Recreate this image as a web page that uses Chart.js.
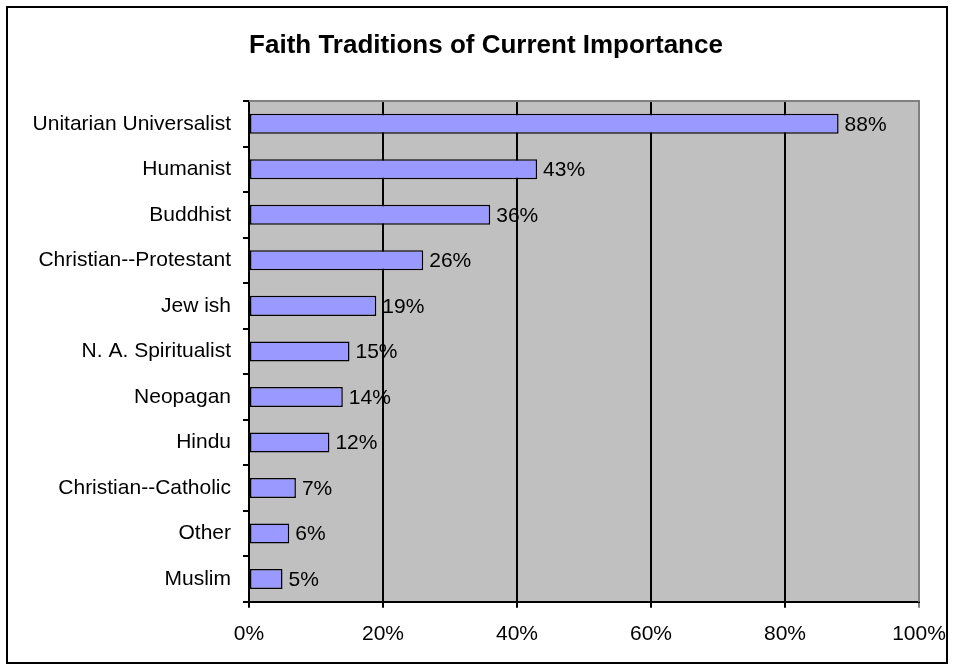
<!DOCTYPE html>
<html>
<head>
<meta charset="utf-8">
<script src="https://cdn.jsdelivr.net/npm/chart.js@4/dist/chart.umd.min.js"></script>
<style>
  body { margin: 0; background: #fff; }
  canvas { display: block; }
</style>
</head>
<body>
<canvas id="faith" width="955" height="671"></canvas>
<script>
// faith traditions, top to bottom as in the picture
var traditions = ['Unitarian Universalist', 'Humanist', 'Buddhist', 'Christian--Protestant',
  'Jew ish', 'N. A. Spiritualist', 'Neopagan', 'Hindu', 'Christian--Catholic', 'Other', 'Muslim'];
var importance = [88, 43, 36, 26, 19, 15, 14, 12, 7, 6, 5];
var pctTicks = [0, 20, 40, 60, 80, 100];
var chartTitle = 'Faith Traditions of Current Importance';

var FONT = 'Arial, "Liberation Sans", sans-serif';

// gray plot area, frame, title and the value labels
var excelLook = {
  id: 'excelLook',
  beforeDraw: function (chart) {
    var c = chart.ctx, a = chart.chartArea;
    c.save();
    c.fillStyle = '#fff';
    c.fillRect(0, 0, chart.width, chart.height);
    c.strokeStyle = '#000';
    c.lineWidth = 2;
    c.strokeRect(7, 7, 940, 656);
    c.fillStyle = '#C0C0C0';
    c.fillRect(a.left, a.top, a.right - a.left, a.bottom - a.top);
    // title, centred on the frame like the original
    c.fillStyle = '#000';
    c.font = 'bold 26px ' + FONT;
    c.textAlign = 'center';
    c.textBaseline = 'middle';
    c.fillText(chartTitle, 486, 46);
    c.restore();
  },
  afterDraw: function (chart) {
    var c = chart.ctx, a = chart.chartArea;
    c.save();
    c.strokeStyle = '#808080';
    c.lineWidth = 2;
    c.beginPath();
    c.moveTo(a.left, a.top);
    c.lineTo(a.right, a.top);
    c.lineTo(a.right, a.bottom);
    c.stroke();
    // data labels
    c.fillStyle = '#000';
    c.font = '21px ' + FONT;
    c.textAlign = 'left';
    c.textBaseline = 'middle';
    chart.getDatasetMeta(0).data.forEach(function (bar, i) {
      c.fillText(importance[i] + '%', bar.x + 6, bar.y + 1);
    });
    c.restore();
  }
};

new Chart(document.getElementById('faith'), {
  type: 'bar',
  data: {
    labels: traditions,
    datasets: [{
      data: importance,
      backgroundColor: '#9999FF',
      borderColor: '#000',
      borderWidth: 1.5,
      borderSkipped: false,
      categoryPercentage: 1,
      barPercentage: 0.44
    }]
  },
  options: {
    indexAxis: 'y',
    responsive: false,
    animation: false,
    layout: { padding: { left: 0, right: 36, top: 101, bottom: 10 } },
    plugins: {
      legend: { display: false },
      tooltip: { enabled: false },
      title: { display: false }
    },
    scales: {
      x: {
        min: 0,
        max: 100,
        afterBuildTicks: function (scale) {
          scale.ticks = pctTicks.map(function (v) { return { value: v }; });
        },
        // let the 100% label hang over the padding, as in the original
        afterFit: function (scale) { scale.paddingRight = 0; scale.paddingLeft = 0; },
        ticks: {
          color: '#000',
          font: { family: FONT, size: 21 },
          padding: 14,
          callback: function (v) { return v + '%'; }
        },
        grid: {
          color: function (ctx) { return ctx.tick && ctx.tick.value === 100 ? '#808080' : '#000'; },
          lineWidth: 2,
          tickLength: 6
        },
        border: { color: '#000', width: 2 }
      },
      y: {
        afterFit: function (scale) { scale.width = 249; },
        ticks: {
          color: '#000',
          font: { family: FONT, size: 21 },
          padding: 12
        },
        grid: {
          drawOnChartArea: false,
          color: '#000',
          lineWidth: 2,
          tickLength: 6,
          offset: true
        },
        border: { color: '#000', width: 2 }
      }
    }
  },
  plugins: [excelLook]
});
</script>
</body>
</html>
